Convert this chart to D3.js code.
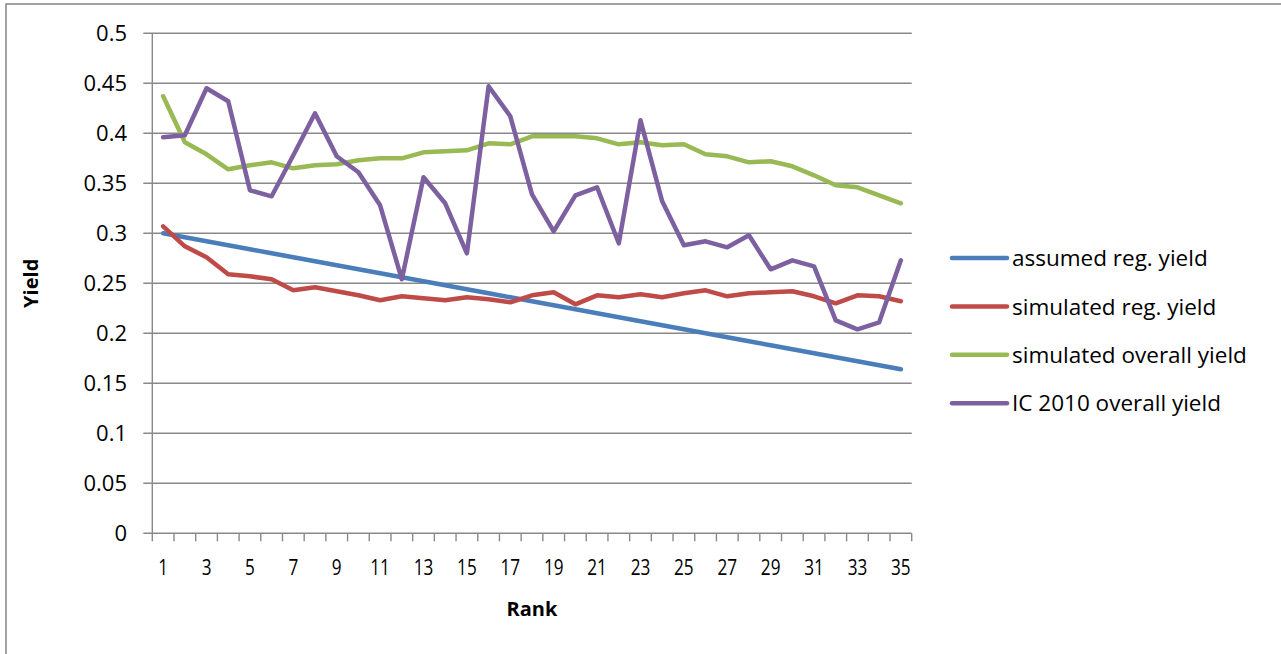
<!DOCTYPE html>
<html>
<head>
<meta charset="utf-8">
<script src="https://cdn.jsdelivr.net/npm/d3@7/dist/d3.min.js"></script>
<style>
  html, body { margin: 0; padding: 0; background: #fff; }
  svg { display: block; }
  text { fill: #000; }
</style>
</head>
<body>
<svg id="chart" width="1281" height="654"></svg>
<script>
// Rank 1..35
const ranks = d3.range(1, 36);

const assumedRegYield = [
  0.300, 0.296, 0.292, 0.288, 0.284, 0.280, 0.276, 0.272, 0.268, 0.264,
  0.260, 0.256, 0.252, 0.248, 0.244, 0.240, 0.236, 0.232, 0.228, 0.224,
  0.220, 0.216, 0.212, 0.208, 0.204, 0.200, 0.196, 0.192, 0.188, 0.184,
  0.180, 0.176, 0.172, 0.168, 0.164
];

const simulatedRegYield = [
  0.307, 0.287, 0.276, 0.259, 0.257, 0.254, 0.243, 0.246, 0.242, 0.238,
  0.233, 0.237, 0.235, 0.233, 0.236, 0.234, 0.231, 0.238, 0.241, 0.229,
  0.238, 0.236, 0.239, 0.236, 0.240, 0.243, 0.237, 0.240, 0.241, 0.242,
  0.237, 0.230, 0.238, 0.237, 0.232
];

const simulatedOverallYield = [
  0.437, 0.391, 0.379, 0.364, 0.368, 0.371, 0.365, 0.368, 0.369, 0.373,
  0.375, 0.375, 0.381, 0.382, 0.383, 0.390, 0.389, 0.397, 0.397, 0.397,
  0.395, 0.389, 0.391, 0.388, 0.389, 0.379, 0.377, 0.371, 0.372, 0.367,
  0.358, 0.348, 0.346, 0.338, 0.330
];

const ic2010OverallYield = [
  0.396, 0.398, 0.445, 0.432, 0.343, 0.337, 0.378, 0.420, 0.377, 0.361,
  0.328, 0.254, 0.356, 0.330, 0.280, 0.447, 0.417, 0.339, 0.302, 0.338,
  0.346, 0.290, 0.413, 0.332, 0.288, 0.292, 0.286, 0.298, 0.264, 0.273,
  0.267, 0.213, 0.204, 0.211, 0.273
];

const seriesNames = [
  "assumed reg. yield",
  "simulated reg. yield",
  "simulated overall yield",
  "IC 2010 overall yield"
];
const seriesColors = ["#4A7EBB", "#BE4B48", "#98B954", "#7D60A0"];
const seriesValues = [assumedRegYield, simulatedRegYield, simulatedOverallYield, ic2010OverallYield];

const yTicks = [0, 0.05, 0.1, 0.15, 0.2, 0.25, 0.3, 0.35, 0.4, 0.45, 0.5];
const xTickLabels = ranks.filter(r => r % 2 === 1);

const svg = d3.select("#chart");
const gridColor = "#898989";

// outer chart frame
svg.append("rect")
  .attr("x", 6).attr("y", 4)
  .attr("width", 1400).attr("height", 800)
  .attr("fill", "none")
  .attr("stroke", "#8a8a8a")
  .attr("stroke-width", 1.6);

const plot = { left: 152.3, right: 911.7, top: 33.3, bottom: 533.3 };

const x = d3.scaleBand()
  .domain(ranks)
  .range([plot.left, plot.right])
  .padding(0);

const y = d3.scaleLinear()
  .domain([0, 0.5])
  .range([plot.bottom, plot.top]);

// horizontal gridlines with left tick marks
svg.append("g")
  .selectAll("line")
  .data(yTicks)
  .join("line")
  .attr("x1", plot.left - 9)
  .attr("x2", plot.right)
  .attr("y1", d => y(d))
  .attr("y2", d => y(d))
  .attr("stroke", gridColor)
  .attr("stroke-width", 1.4);

// y axis line
svg.append("line")
  .attr("x1", plot.left).attr("x2", plot.left)
  .attr("y1", y(0.5)).attr("y2", y(0))
  .attr("stroke", gridColor)
  .attr("stroke-width", 1.4);

// x axis tick marks between categories
const boundaries = ranks.map(r => x(r)).concat([plot.right]);
svg.append("g")
  .selectAll("line")
  .data(boundaries)
  .join("line")
  .attr("x1", d => d).attr("x2", d => d)
  .attr("y1", y(0)).attr("y2", y(0) + 8)
  .attr("stroke", gridColor)
  .attr("stroke-width", 1.4);

// y tick labels
svg.append("g")
  .selectAll("text")
  .data(yTicks)
  .join("text")
  .attr("x", 127)
  .attr("y", d => y(d))
  .attr("dy", "0.36em")
  .attr("text-anchor", "end")
  .style("font-family", "'Open Sans', sans-serif")
  .style("font-size", "22px")
  .text(d => String(d));

// x tick labels (odd ranks)
svg.append("g")
  .selectAll("text")
  .data(xTickLabels)
  .join("text")
  .attr("transform", d => `translate(${x(d) + x.bandwidth() / 2},575) scale(0.78,1)`)
  .attr("text-anchor", "middle")
  .style("font-family", "'Open Sans', sans-serif")
  .style("font-size", "22px")
  .text(d => String(d));

// axis titles
svg.append("text")
  .attr("transform", `translate(38,${(plot.top + plot.bottom) / 2}) rotate(-90)`)
  .attr("text-anchor", "middle")
  .style("font-family", "'Open Sans', sans-serif")
  .style("font-size", "20px")
  .style("font-weight", "bold")
  .text("Yield");

svg.append("text")
  .attr("x", (plot.left + plot.right) / 2)
  .attr("y", 616)
  .attr("text-anchor", "middle")
  .style("font-family", "'Open Sans', sans-serif")
  .style("font-size", "20px")
  .style("font-weight", "bold")
  .text("Rank");

// series lines
const line = d3.line()
  .x((d, i) => x(ranks[i]) + x.bandwidth() / 2)
  .y(d => y(d));

svg.append("g")
  .selectAll("path")
  .data(seriesValues)
  .join("path")
  .attr("d", d => line(d))
  .attr("fill", "none")
  .attr("stroke", (d, i) => seriesColors[i])
  .attr("stroke-width", 4.5)
  .attr("stroke-linejoin", "round")
  .attr("stroke-linecap", "round");

// legend
const legend = svg.append("g")
  .selectAll("g")
  .data(seriesNames)
  .join("g")
  .attr("transform", (d, i) => `translate(952,${258 + i * 48.4})`);

legend.append("line")
  .attr("x1", 0).attr("x2", 55)
  .attr("y1", 0).attr("y2", 0)
  .attr("stroke", (d, i) => seriesColors[i])
  .attr("stroke-width", 4.5)
  .attr("stroke-linecap", "round");

legend.append("text")
  .attr("x", 60)
  .attr("dy", "0.36em")
  .style("font-family", "'Open Sans', sans-serif")
  .style("font-size", "22.5px")
  .text(d => d);
</script>
</body>
</html>
